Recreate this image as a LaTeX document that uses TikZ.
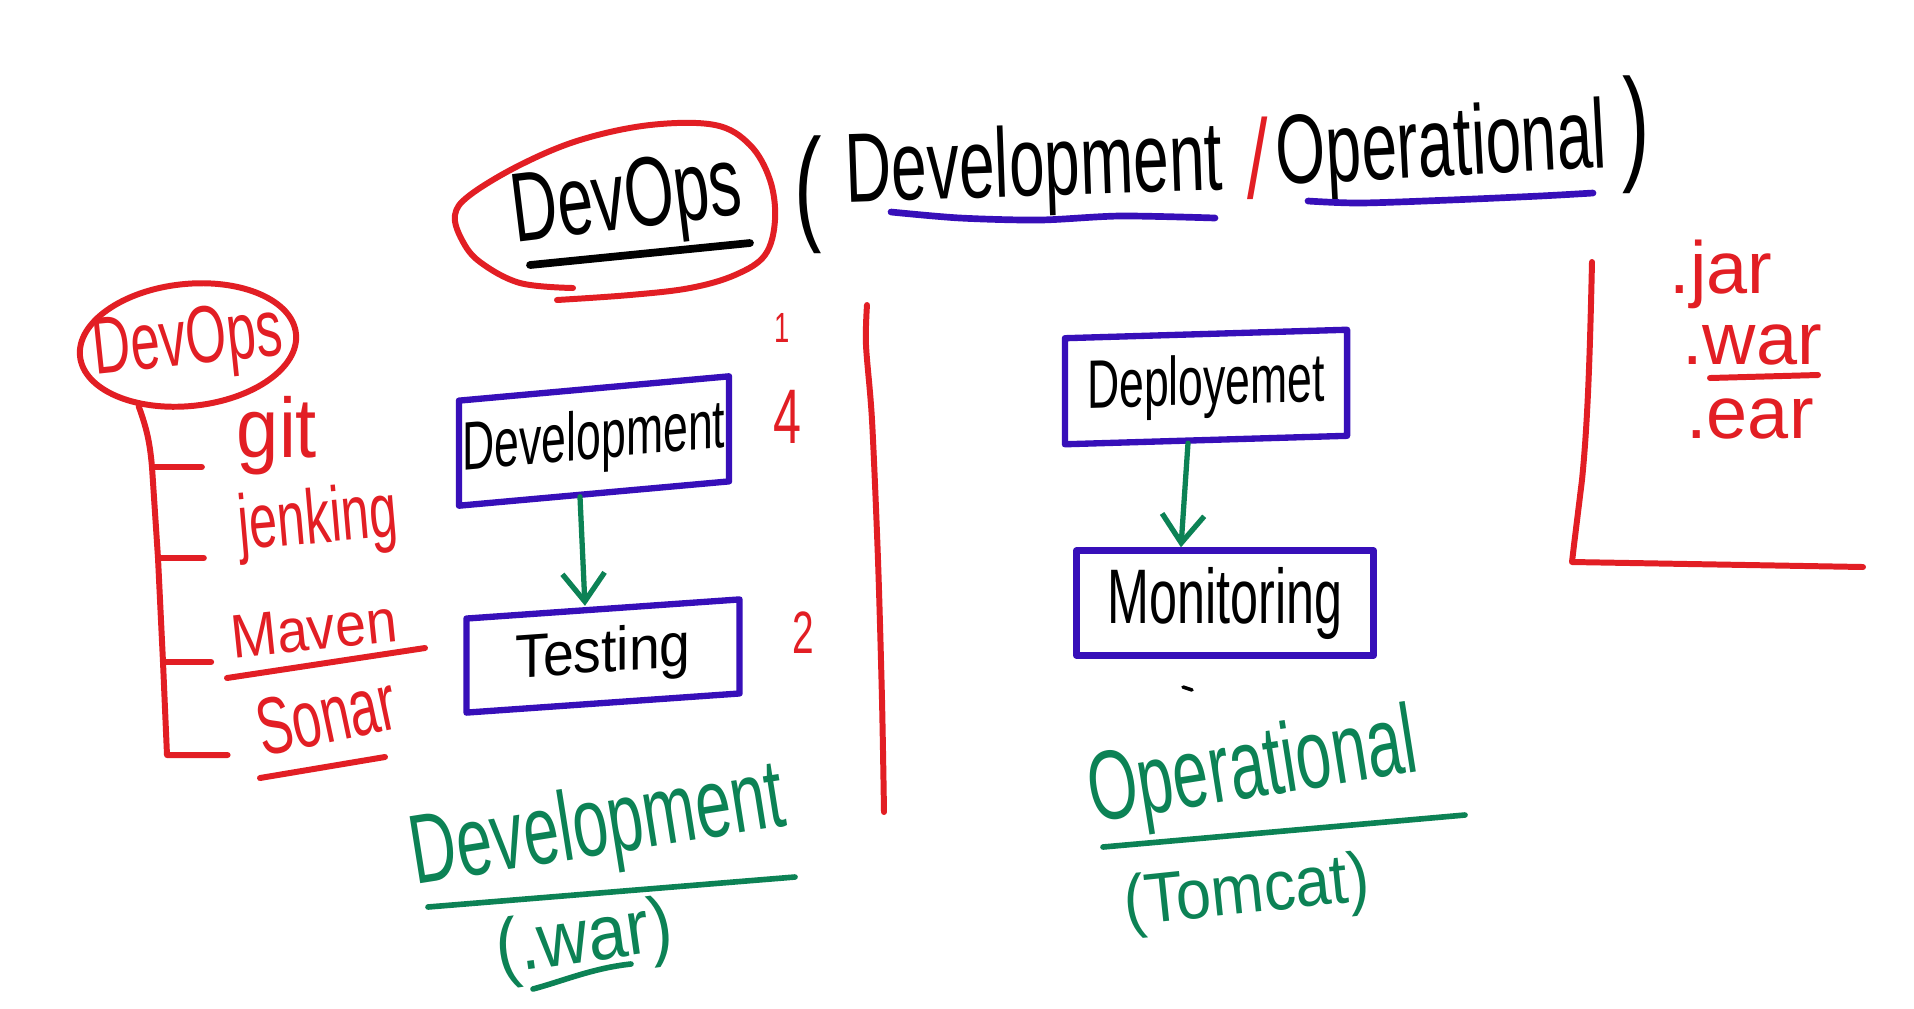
\documentclass[tikz,border=0pt]{standalone}
\usepackage{fontspec}
\setmainfont{Liberation Sans}
\newfontfamily\handfont[FakeStretch=0.65]{Liberation Sans}
\newfontfamily\handwide[FakeStretch=0.9]{Liberation Sans}
\newfontfamily\handfull{Liberation Sans}
\usetikzlibrary{arrows.meta,shapes.geometric}
\definecolor{myred}{RGB}{226,30,36}
\definecolor{mypurple}{RGB}{55,15,185}
\definecolor{mygreen}{RGB}{12,130,85}
\newcommand\hsz[1]{\fontsize{#1}{#1}\selectfont}
\tikzset{
  hand/.style={inner sep=0pt, outer sep=0pt},
  rtxt/.style={hand, text=myred},
  gtxt/.style={hand, text=mygreen},
  ktxt/.style={hand, text=black},
  pbox/.style={draw=mypurple, line width=1.8pt, rectangle, inner sep=0pt, line join=round},
  rline/.style={draw=myred, line width=1.7pt, line cap=round, line join=round},
  gline/.style={draw=mygreen, line width=1.6pt, line cap=round, line join=round},
  pline/.style={draw=mypurple, line width=1.9pt, line cap=round, line join=round},
  kline/.style={draw=black, line width=2.2pt, line cap=round},
  garrow/.style={draw=mygreen, line width=1.5pt, line cap=round, -{Straight Barb[length=8pt,width=12pt,line width=1.5pt]}},
}
\begin{document}
\begin{tikzpicture}[x=0.01cm,y=0.01cm]
\fill[white] (0,0) rectangle (1914,-1008);
\useasboundingbox (0,0) rectangle (1914,-1008);

% ---------- title ----------
\node[ktxt, font=\handfont\hsz{28}, anchor=base, rotate=7] (ttl) at (630,-228) {DevOps};
\draw[kline] (530,-265) -- (750,-243);
\draw[rline] plot[smooth, tension=0.6] coordinates {(573,-288) (520,-283) (480,-262) (462,-240) (455,-215) (470,-195) (520,-165) (580,-140) (650,-125) (715,-125) (750,-145) (770,-180) (775,-220) (765,-255) (735,-275) (690,-288) (630,-295) (557,-300)};
\node[ktxt, font=\handfont\hsz{36}] (lp) at (808,-195) {(};
\node[ktxt, font=\handfont\hsz{28}, anchor=base, rotate=2] (tdev) at (1035,-196) {Development};
\node[rtxt, font=\handfont\hsz{32}] (sl) at (1258,-158) {/};
\node[ktxt, font=\handfont\hsz{28}, anchor=base, rotate=3] (tops) at (1443,-176) {Operational};
\node[ktxt, font=\handfont\hsz{36}] (rp) at (1636,-135) {)};
\draw[pline] plot[smooth] coordinates {(891,-212) (960,-218) (1040,-220) (1120,-216) (1215,-218)};
\draw[pline] plot[smooth] coordinates {(1308,-201) (1360,-203) (1450,-200) (1540,-196) (1593,-193)};

% ---------- left tree ----------
\node[ellipse, draw=myred, line width=1.7pt, minimum width=2.17cm, minimum height=1.22cm, rotate=6, inner xsep=-0.19cm, inner ysep=0pt, text=myred, font=\handfont\hsz{23}] (dv2) at (188,-345) {DevOps};
\node[rtxt, font=\handwide\hsz{24}, anchor=base] (git) at (277,-457) {git};
\node[rtxt, font=\handfont\hsz{22}, anchor=base, rotate=5] (jen) at (320,-543) {jenking};
\node[rtxt, font=\handwide\hsz{17.5}, anchor=base, rotate=6] (mvn) at (316,-650) {Maven};
\node[rtxt, font=\handfont\hsz{23}, anchor=base, rotate=12] (snr) at (332,-742) {Sonar};
\draw[rline] (dv2.225) to[out=-70,in=95] (152,-467) coordinate (b1)
   -- (158,-558) coordinate (b2) -- (163,-662) coordinate (b3)
   -- (167,-755) coordinate (b4) -- ([xshift=-0.3cm]b4 -| snr.west);
\draw[rline] (b1) -- ([xshift=-0.35cm]b1 -| git.west);
\draw[rline] (b2) -- ([xshift=-0.35cm]b2 -| jen.west);
\draw[rline] (b3) -- ([xshift=-0.2cm]b3 -| mvn.west);
\draw[rline] (227,-678) -- (425,-648);
\draw[rline] (260,-778) -- (385,-757);

% ---------- development column ----------
\node[pbox, minimum width=2.70cm, minimum height=1.05cm, yslant=0.09, font=\handfont\hsz{19.5}] (dev) at (594,-441) {Development};
\node[pbox, minimum width=2.73cm, minimum height=0.94cm, yslant=0.07, font=\handwide\hsz{17.5}] (test) at (603,-656) {Testing};
\draw[garrow] ([xshift=-0.14cm]dev.south) -- ([xshift=-0.18cm]test.north);
\node[rtxt, font=\handfont\hsz{12}] (n1) at (782,-328) {1};
\node[rtxt, font=\handfont\hsz{22}] (n4) at (787,-417) {4};
\node[rtxt, font=\handfont\hsz{17}] (n2) at (803,-633) {2};
\draw[rline] plot[smooth] coordinates {(867,-305) (866,-345) (872,-420) (878,-560) (882,-700) (884,-812)};
\node[gtxt, font=\handfont\hsz{28}, anchor=base, rotate=9] (gdev) at (602,-855) {Development};
\draw[gline] (428,-907) -- (795,-877);
\node[gtxt, font=\handwide\hsz{22}, rotate=8] (gwar) at (585,-942) {(.war)};
\draw[gline] (533,-989) .. controls (563,-981) and (593,-968) .. (631,-964);

% ---------- operational column ----------
\node[pbox, minimum width=2.82cm, minimum height=1.06cm, yslant=0.03, font=\handfont\hsz{19.5}] (dep) at (1206,-387) {Deployemet};
\node[pbox, minimum width=2.97cm, minimum height=1.05cm, font=\handfont\hsz{22}] (mon) at (1225,-603) {Monitoring};
\draw[garrow] ([xshift=-0.18cm]dep.south) -- ([xshift=-0.44cm]mon.north);
\draw[line width=1pt, line cap=round] (1183,-687) -- (1192,-690);
\node[gtxt, font=\handfont\hsz{28}, anchor=base, rotate=9] (gops) at (1257,-797) {Operational};
\draw[gline] (1103,-847) -- (1465,-815);
\node[gtxt, font=\handwide\hsz{20}, rotate=6] (gtom) at (1247,-895) {(Tomcat)};

% ---------- right corner ----------
\draw[rline] (1592,-262) .. controls (1590,-350) and (1588,-420) .. (1582,-480) -- (1574,-545) -- (1572,-562) -- (1863,-567);
\node[rtxt, font=\handfull\hsz{21}, anchor=base] (jar) at (1721,-293) {.jar};
\node[rtxt, font=\handfull\hsz{21}, anchor=base] (war) at (1752,-364) {.war};
\node[rtxt, font=\handfull\hsz{21}, anchor=base] (ear) at (1750,-438) {.ear};
\draw[rline] (1710,-378) -- (1818,-375);
\end{tikzpicture}
\end{document}
